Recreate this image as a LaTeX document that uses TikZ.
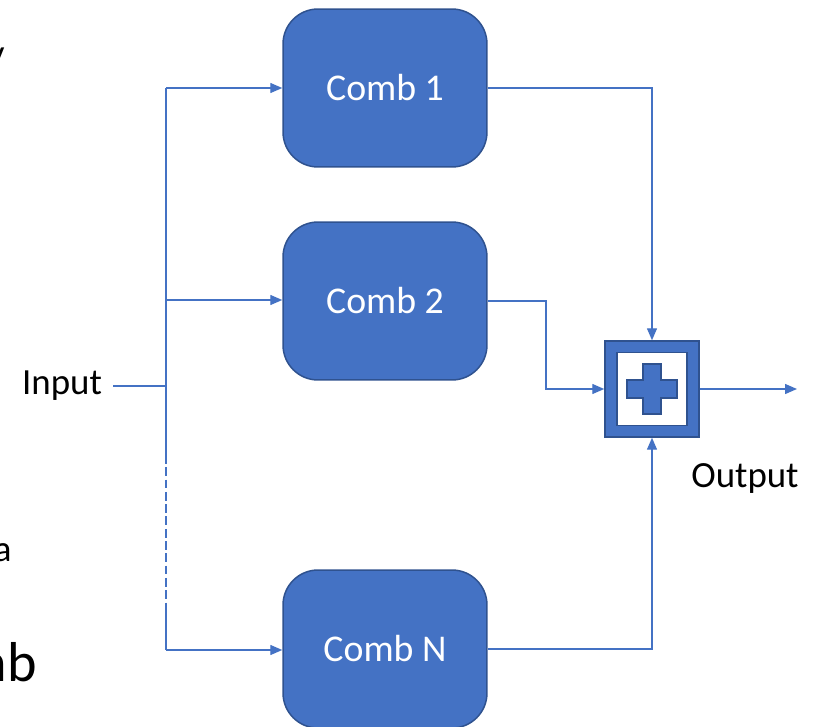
\documentclass[tikz,border=0pt]{standalone}
\usepackage{fontspec}
\setmainfont{Carlito}
\definecolor{officeblue}{HTML}{4472C4}
\definecolor{darkblue}{HTML}{2F528F}
\usetikzlibrary{arrows.meta, positioning, calc}
\tikzset{
    comb/.style={
        rectangle, rounded corners=0.7cm,
        minimum width=4.08cm, minimum height=3.16cm,
        draw=darkblue, fill=officeblue, text=white,
        font=\fontsize{21.5}{25}\selectfont, line width=0.85pt
    },
    sumbox/.style={
        rectangle, minimum width=1.88cm, minimum height=1.92cm,
        draw=darkblue, fill=officeblue, line width=0.85pt
    },
    sumhole/.style={
        rectangle, minimum width=1.4cm, minimum height=1.46cm,
        draw=darkblue, fill=white, line width=0.85pt
    },
    link/.style={-{Triangle[length=0.24cm, width=0.2cm]}, color=officeblue, line width=0.8pt},
    wire/.style={color=officeblue, line width=0.8pt},
    lbl/.style={font=\fontsize{21}{25}\selectfont, text=black}
}
\begin{document}
\begin{tikzpicture}[x=0.02cm, y=-0.02cm]
    \useasboundingbox (0,0) rectangle (816,727);

    % Combiner blocks
    \node[comb] (comb1) at (385,88) {Comb 1};
    \node[comb] (comb2) at (385,301) {Comb 2};
    \node[comb] (combN) at (385,649) {Comb N};

    % Summing block
    \node[sumbox] (sum) at (652,389) {};
    \node[sumhole] (hole) at (sum.center) {};
    \draw[darkblue, fill=officeblue, line width=0.7pt]
        ($(hole.center)+(-9,-25)$) -- ++(18,0) -- ++(0,16) -- ++(16,0) -- ++(0,18)
        -- ++(-16,0) -- ++(0,16) -- ++(-18,0) -- ++(0,-16) -- ++(-16,0)
        -- ++(0,-18) -- ++(16,0) -- cycle;

    % Labels
    \node[lbl, inner sep=0.22cm] (input) at (62,386) {Input};
    \node[lbl] (output) at (745,478) {Output};
    \node[lbl, anchor=east, inner sep=0pt] (cuty) at (5,60) {y};
    \node[lbl, anchor=east, inner sep=0pt] (cuta) at (12,553) {a};
    \node[anchor=east, inner sep=0pt, font=\fontsize{32}{38}\selectfont] (cutnb) at (37,662) {nb};

    % Input fan-out
    \coordinate (split) at (166,386);
    \coordinate (top) at (166,88);
    \coordinate (mid) at (166,300);
    \coordinate (dashA) at (166,455);
    \coordinate (dashB) at (166,603);
    \coordinate (bot) at (166,650);
    \coordinate (out) at (797,389);

    \draw[wire] (input.east) -- (split);
    \draw[wire] (top) -- (dashA);
    \draw[wire, dashed, dash pattern=on 5pt off 2pt] (dashA) -- (dashB);
    \draw[wire] (dashB) -- (bot);

    \draw[link] (top) -- (comb1);
    \draw[link] (mid) -- (comb2.west |- mid);
    \draw[link] (bot) -- (combN.west |- bot);

    % Into the sum
    \draw[link] (comb1.east) -| (sum.north);
    \draw[link] (comb2.east) -| ($(comb2.east)!.5!(sum.west)$) |- (sum.west);
    \draw[link] (combN.east) -| (sum.south);
    \draw[link] (sum.east) -- (out);

\end{tikzpicture}
\end{document}
